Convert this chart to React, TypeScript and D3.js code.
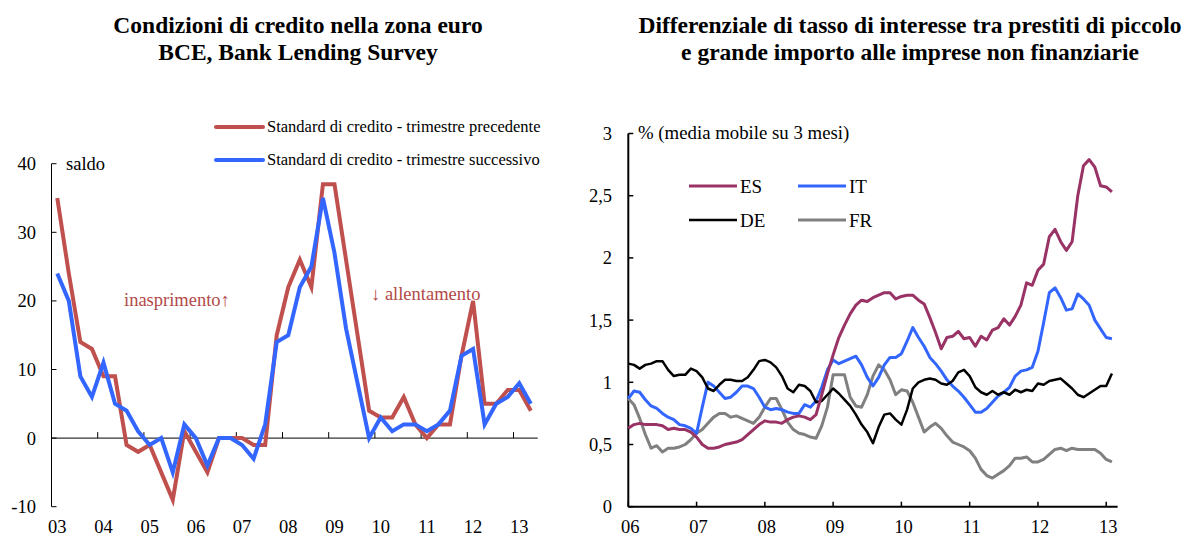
import React, { useEffect, useRef } from "react";
import * as d3 from "d3";

// --- left chart: BLS quarterly, 2003Q1 - 2013Q2 ---
const leftYears = ["03", "04", "05", "06", "07", "08", "09", "10", "11", "12", "13"];
const precedente = [35, 24, 14, 13, 9, 9, -1, -2, -1, -5, -9, 1, -2, -5, 0, 0, 0, -1, -1, 15, 22,
  26, 22, 37, 37, 26, 15, 4, 3, 3, 6, 2, 0, 2, 2, 12, 20, 5, 5, 7, 7, 4];
const successivo = [24, 20, 9, 6, 11, 5, 4, 1, -1, 0, -5, 2, 0, -4, 0, 0, -1, -3, 2, 14, 15,
  22, 25, 35, 27, 16, 8, 0, 3, 1, 2, 2, 1, 2, 4, 12, 13, 2, 5, 6, 8, 5];
const leftTicks = [-10, 0, 10, 20, 30, 40];

// --- right chart: monthly, Jan 2006 - Feb 2013 ---
const rightYears = ["06", "07", "08", "09", "10", "11", "12", "13"];
const ES = [0.63, 0.66, 0.67, 0.66, 0.66, 0.66, 0.65, 0.62, 0.63, 0.62, 0.62, 0.60,
  0.56, 0.50, 0.47, 0.47, 0.48, 0.50, 0.51, 0.52, 0.54, 0.58, 0.62, 0.66,
  0.69, 0.68, 0.68, 0.67, 0.70, 0.72, 0.73, 0.72, 0.70, 0.74, 0.90, 1.07,
  1.22, 1.36, 1.46, 1.55, 1.62, 1.66, 1.65, 1.68, 1.70, 1.72, 1.72, 1.67,
  1.69, 1.70, 1.70, 1.66, 1.63, 1.52, 1.40, 1.27, 1.36, 1.37, 1.41, 1.35,
  1.36, 1.29, 1.37, 1.34, 1.42, 1.44, 1.51, 1.46, 1.53, 1.62, 1.80, 1.78,
  1.90, 1.95, 2.17, 2.23, 2.13, 2.06, 2.13, 2.50, 2.74, 2.79, 2.73, 2.58,
  2.57, 2.53];
const IT = [0.87, 0.93, 0.92, 0.86, 0.81, 0.79, 0.75, 0.72, 0.70, 0.66, 0.65, 0.63,
  0.59, 0.80, 1.00, 0.97, 0.92, 0.87, 0.88, 0.92, 0.97, 0.97, 0.95, 0.88,
  0.80, 0.78, 0.79, 0.78, 0.76, 0.75, 0.75, 0.82, 0.80, 0.85, 0.96, 1.10,
  1.18, 1.15, 1.17, 1.19, 1.21, 1.14, 1.04, 0.97, 1.04, 1.14, 1.20, 1.20,
  1.23, 1.33, 1.44, 1.36, 1.29, 1.20, 1.15, 1.09, 1.02, 0.97, 0.93, 0.88,
  0.82, 0.76, 0.76, 0.79, 0.84, 0.89, 0.92, 0.96, 1.05, 1.09, 1.10, 1.12,
  1.25, 1.48, 1.72, 1.76, 1.68, 1.58, 1.59, 1.71, 1.67, 1.62, 1.50, 1.43,
  1.36, 1.35];
const DE = [1.15, 1.14, 1.11, 1.14, 1.15, 1.17, 1.17, 1.10, 1.05, 1.06, 1.06, 1.11,
  1.09, 1.04, 0.95, 0.93, 0.98, 1.02, 1.02, 1.01, 1.01, 1.04, 1.10, 1.17,
  1.18, 1.16, 1.12, 1.05, 0.95, 0.92, 0.98, 0.97, 0.93, 0.84, 0.85, 0.90,
  0.95, 0.91, 0.86, 0.81, 0.74, 0.66, 0.60, 0.51, 0.64, 0.74, 0.75, 0.70,
  0.66, 0.78, 0.95, 1.00, 1.02, 1.03, 1.02, 0.99, 0.98, 1.01, 1.08, 1.10,
  1.05, 0.96, 0.92, 0.90, 0.93, 0.90, 0.92, 0.90, 0.94, 0.92, 0.94, 0.93,
  0.99, 0.98, 1.01, 1.02, 1.03, 0.99, 0.95, 0.90, 0.88, 0.91, 0.94, 0.97,
  0.97, 1.07];
const FR = [0.87, 0.82, 0.71, 0.58, 0.47, 0.49, 0.44, 0.47, 0.47, 0.48, 0.50, 0.54,
  0.59, 0.62, 0.67, 0.72, 0.75, 0.75, 0.72, 0.73, 0.71, 0.69, 0.67, 0.72,
  0.80, 0.87, 0.87, 0.78, 0.68, 0.62, 0.59, 0.58, 0.56, 0.55, 0.65, 0.80,
  1.06, 1.06, 1.06, 0.88, 0.81, 0.80, 0.90, 1.05, 1.14, 1.10, 1.02, 0.90,
  0.94, 0.93, 0.84, 0.72, 0.60, 0.64, 0.67, 0.63, 0.57, 0.52, 0.50, 0.48,
  0.45, 0.39, 0.30, 0.25, 0.23, 0.26, 0.29, 0.33, 0.39, 0.39, 0.40, 0.36,
  0.36, 0.38, 0.42, 0.46, 0.47, 0.45, 0.47, 0.46, 0.46, 0.46, 0.46, 0.43,
  0.38, 0.36];
const rightTicks = [0, 0.5, 1, 1.5, 2, 2.5, 3];

const FONT = "'Liberation Serif', 'Times New Roman', serif";
const RED = "#C0504D";
const BLUE = "#3366FF";
const NOTE = "#B24A47";

function App() {
  const ref = useRef<SVGSVGElement>(null);

  useEffect(() => {
    const svg = d3.select(ref.current);
    svg.selectAll("*").remove();
    svg.attr("font-family", FONT);

    // titles
    const titles = [
      { x: 298, lines: ["Condizioni di credito nella zona euro", "BCE, Bank Lending Survey"] },
      { x: 910, lines: ["Differenziale di tasso di interesse tra prestiti di piccolo", "e grande importo alle imprese non finanziarie"] },
    ];
    titles.forEach(t => {
      t.lines.forEach((s, k) => {
        svg.append("text")
          .attr("x", t.x).attr("y", 33 + k * 27)
          .attr("text-anchor", "middle")
          .attr("font-size", 23.5).attr("font-weight", "bold")
          .text(s);
      });
    });

    // ---------- left chart ----------
    const xL = d3.scaleLinear().domain([-0.5, 41.5]).range([51.5, 536.6]);
    const yL = d3.scaleLinear().domain([-10, 40]).range([506.7, 163.7]);
    const gL = svg.append("g");

    gL.append("line")
      .attr("x1", xL(-0.5)).attr("x2", xL(-0.5))
      .attr("y1", yL(40)).attr("y2", yL(-10))
      .attr("stroke", "#000").attr("stroke-width", 1);
    leftTicks.forEach(v => {
      gL.append("line")
        .attr("x1", xL(-0.5)).attr("x2", xL(-0.5) + 5)
        .attr("y1", yL(v)).attr("y2", yL(v))
        .attr("stroke", "#000");
      gL.append("text")
        .attr("x", 36).attr("y", yL(v)).attr("dy", "0.35em")
        .attr("text-anchor", "end").attr("font-size", 18.5)
        .text(v);
    });
    gL.append("line")
      .attr("x1", xL(-0.5)).attr("x2", xL(41.6))
      .attr("y1", yL(0)).attr("y2", yL(0))
      .attr("stroke", "#000");
    leftYears.forEach((yr, k) => {
      if (k > 0) {
        const tx = xL(k * 4 - 0.5);
        gL.append("line")
          .attr("x1", tx).attr("x2", tx)
          .attr("y1", yL(0)).attr("y2", yL(0) - 6)
          .attr("stroke", "#000");
      }
      gL.append("text")
        .attr("x", xL(k * 4)).attr("y", 533)
        .attr("text-anchor", "middle").attr("font-size", 18.5)
        .text(yr);
    });

    gL.append("text").attr("x", 66).attr("y", 170).attr("font-size", 18.5).text("saldo");

    const lineL = d3.line<number>().x((d, i) => xL(i)).y(d => yL(d));
    gL.append("path").attr("d", lineL(precedente)!)
      .attr("fill", "none").attr("stroke", RED).attr("stroke-width", 4);
    gL.append("path").attr("d", lineL(successivo)!)
      .attr("fill", "none").attr("stroke", BLUE).attr("stroke-width", 4);

    gL.append("text").attr("x", 124).attr("y", 306).attr("font-size", 18.5)
      .attr("fill", NOTE).text("inasprimento↑");
    gL.append("text").attr("x", 371).attr("y", 300).attr("font-size", 18.5)
      .attr("fill", NOTE).text("↓ allentamento");

    const legL = [
      { y: 127, color: RED, label: "Standard di credito - trimestre precedente" },
      { y: 160, color: BLUE, label: "Standard di credito - trimestre successivo" },
    ];
    legL.forEach(l => {
      gL.append("line").attr("x1", 216).attr("x2", 263).attr("y1", l.y).attr("y2", l.y)
        .attr("stroke", l.color).attr("stroke-width", 4).attr("stroke-linecap", "round");
      gL.append("text").attr("x", 267).attr("y", l.y + 5).attr("font-size", 16.5).text(l.label);
    });

    // ---------- right chart ----------
    const xR = d3.scaleLinear().domain([0, 86]).range([628.3, 1117.6]);
    const yR = d3.scaleLinear().domain([0, 3]).range([506.7, 133.5]);
    const gR = svg.append("g");

    rightTicks.forEach(v => {
      gR.append("line")
        .attr("x1", xR(0)).attr("x2", xR(0) + 5)
        .attr("y1", yR(v)).attr("y2", yR(v))
        .attr("stroke", "#000").attr("stroke-width", 1.5);
      gR.append("text")
        .attr("x", 612).attr("y", yR(v)).attr("dy", "0.35em")
        .attr("text-anchor", "end").attr("font-size", 18.5)
        .text(String(v).replace(".", ","));
    });
    rightYears.forEach((yr, k) => {
      const tx = xR(k * 12);
      gR.append("line")
        .attr("x1", tx).attr("x2", tx)
        .attr("y1", yR(0)).attr("y2", yR(0) - 5)
        .attr("stroke", "#000").attr("stroke-width", 1.5);
      gR.append("text")
        .attr("x", tx + 2).attr("y", 533)
        .attr("text-anchor", "middle").attr("font-size", 18.5)
        .text(yr);
    });
    gR.append("line")
      .attr("x1", xR(0)).attr("x2", xR(0))
      .attr("y1", yR(3)).attr("y2", yR(0))
      .attr("stroke", "#000").attr("stroke-width", 2);
    gR.append("line")
      .attr("x1", xR(0)).attr("x2", xR(86))
      .attr("y1", yR(0)).attr("y2", yR(0))
      .attr("stroke", "#000").attr("stroke-width", 2);

    gR.append("text").attr("x", 638).attr("y", 139).attr("font-size", 18.8)
      .text("% (media mobile su 3 mesi)");

    const lineR = d3.line<number>().x((d, i) => xR(i)).y(d => yR(d));
    const seriesR = [
      { data: FR, color: "#808080", width: 3 },
      { data: IT, color: BLUE, width: 3 },
      { data: DE, color: "#000000", width: 2.5 },
      { data: ES, color: "#993366", width: 3 },
    ];
    seriesR.forEach(s => {
      gR.append("path").attr("d", lineR(s.data)!)
        .attr("fill", "none").attr("stroke", s.color)
        .attr("stroke-width", s.width).attr("stroke-linejoin", "round");
    });

    const legR = [
      { x: 689, y: 186, color: "#993366", label: "ES", w: 3 },
      { x: 798, y: 186, color: BLUE, label: "IT", w: 3 },
      { x: 689, y: 220, color: "#000000", label: "DE", w: 2.5 },
      { x: 798, y: 220, color: "#808080", label: "FR", w: 3 },
    ];
    legR.forEach(l => {
      gR.append("line").attr("x1", l.x).attr("x2", l.x + 48).attr("y1", l.y).attr("y2", l.y)
        .attr("stroke", l.color).attr("stroke-width", l.w);
      gR.append("text").attr("x", l.x + 51).attr("y", l.y + 6.5).attr("font-size", 19).text(l.label);
    });
  }, []);

  return (
    <svg ref={ref} width={1201} height={536}
      style={{ position: "absolute", left: 0, top: 0, background: "#fff" }} />
  );
}

export default App;
